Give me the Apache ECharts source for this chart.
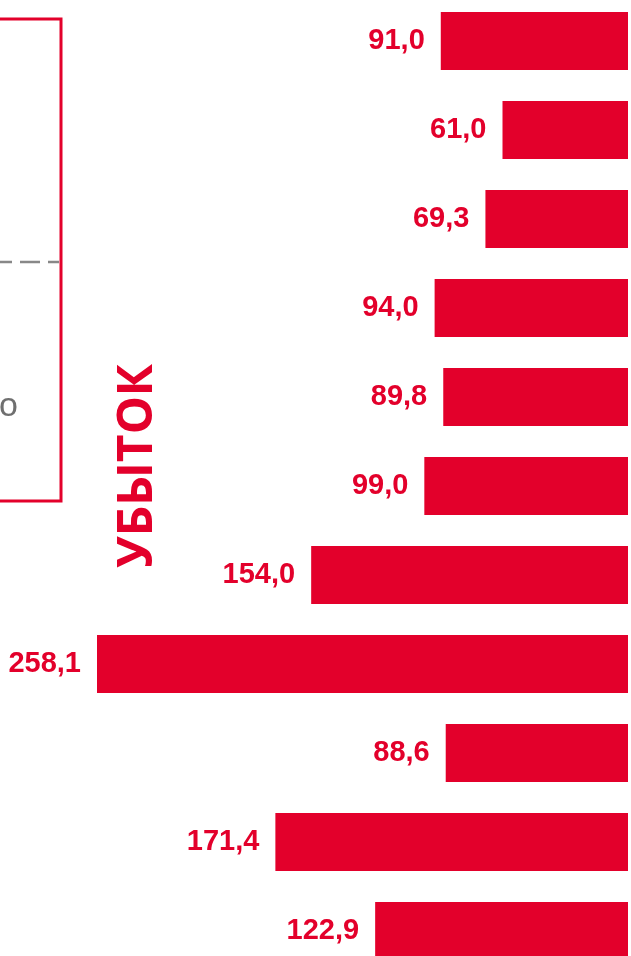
<!DOCTYPE html>
<html>
<head>
<meta charset="utf-8">
<script src="https://cdn.jsdelivr.net/npm/echarts@6/dist/echarts.min.js"></script>
<style>
html,body{margin:0;padding:0;background:#fff;}
#chart{width:631px;height:956px;}
</style>
</head>
<body>
<div id="chart"></div>
<script>
var categories = ['1','2','3','4','5','6','7','8','9','10','11'];
var values = [91.0, 61.0, 69.3, 94.0, 89.8, 99.0, 154.0, 258.1, 88.6, 171.4, 122.9];
var sideTitle = 'УБЫТОК';
var boxText = 'о';

var RED = '#E3002B';
var chart = echarts.init(document.getElementById('chart'));
chart.setOption({
  animation: false,
  backgroundColor: '#ffffff',
  grid: { left: 97, right: 3, top: -3.5, bottom: -19.5, containLabel: false, outerBoundsMode: 'none' },
  xAxis: { type: 'value', inverse: true, min: 0, max: 258.1, show: false },
  yAxis: { type: 'category', inverse: true, data: categories, show: false },
  series: [{
    type: 'bar',
    data: values,
    barWidth: 58,
    itemStyle: { color: RED },
    label: {
      show: true,
      position: 'left',
      distance: 16,
      color: RED,
      fontFamily: 'Liberation Sans, Arial, sans-serif',
      fontWeight: 'bold',
      fontSize: 29,
      formatter: function (p) { return p.value.toFixed(1).replace('.', ','); }
    }
  }],
  graphic: [
    {
      type: 'rect',
      shape: { x: -10, y: 19, width: 71, height: 482 },
      style: { fill: 'none', stroke: RED, lineWidth: 3 }
    },
    {
      type: 'line',
      shape: { x1: 0, y1: 262, x2: 59, y2: 262 },
      style: { stroke: '#888888', lineWidth: 2.5, lineDash: [20, 8], lineDashOffset: 8 }
    },
    {
      type: 'text',
      x: -1, y: 407,
      style: {
        text: boxText, fill: '#6f6f6f', fontSize: 34,
        fontFamily: 'Liberation Sans, Arial, sans-serif',
        textAlign: 'left', textVerticalAlign: 'middle'
      }
    },
    {
      type: 'text',
      x: 138, y: 466,
      rotation: Math.PI / 2,
      style: {
        text: sideTitle, fill: RED, fontSize: 48, fontWeight: 'bold',
        fontFamily: 'Open Sans, sans-serif',
        textAlign: 'center', textVerticalAlign: 'middle'
      }
    }
  ]
});
</script>
</body>
</html>
